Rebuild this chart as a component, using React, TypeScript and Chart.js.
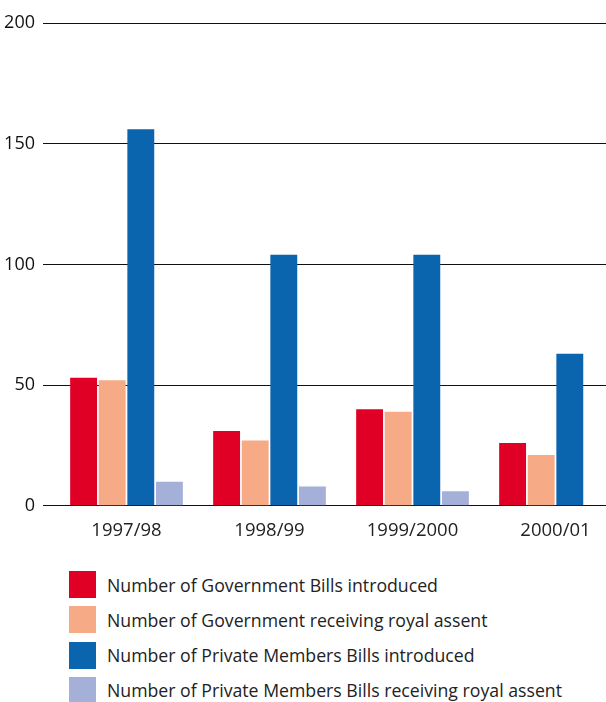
import React, { useEffect, useRef } from "react";
import { Chart, registerables } from "chart.js";

Chart.register(...registerables);

const categories = ["1997/98", "1998/99", "1999/2000", "2000/01"];
const govIntroduced = [53, 31, 40, 26];
const govAssent = [52, 27, 39, 21];
const pmIntroduced = [156, 104, 104, 63];
const pmAssent = [10, 8, 6, 0];
const yTicks = [0, 50, 100, 150, 200];

const seriesNames = [
  "Number of Government Bills introduced",
  "Number of Government receiving royal assent",
  "Number of Private Members Bills introduced",
  "Number of Private Members Bills receiving royal assent",
];
const colors = ["#e00025", "#f6ab86", "#0a64ae", "#a4b0d8"];

const FONT = "'Open Sans', sans-serif";

export default function App() {
  const ref = useRef<HTMLCanvasElement>(null);
  useEffect(() => {
    if (!ref.current) return;
    const values = [govIntroduced, govAssent, pmIntroduced, pmAssent];
    const chart = new Chart(ref.current, {
      type: "bar",
      data: {
        labels: categories,
        datasets: values.map((v, i) => ({
          label: seriesNames[i],
          data: v,
          backgroundColor: colors[i],
          borderWidth: 0,
          categoryPercentage: 0.8,
          barPercentage: 0.94,
        })),
      },
      options: {
        responsive: false,
        animation: false,
        layout: { padding: { top: 23, right: 13, left: 0, bottom: 0 } },
        plugins: { legend: { display: false }, tooltip: { enabled: false } },
        scales: {
          x: {
            grid: { display: false },
            border: { display: false },
            ticks: { color: "#222", font: { family: FONT, size: 18.5 }, padding: 6 },
          },
          y: {
            min: 0,
            max: 200,
            afterBuildTicks: (s: any) => {
              s.ticks = yTicks.map((v) => ({ value: v }));
            },
            afterFit: (s: any) => {
              s.width = 55;
            },
            grid: { color: "#111", lineWidth: 1, tickLength: 12, drawTicks: true },
            border: { display: false },
            ticks: { color: "#111", font: { family: FONT, size: 18 }, padding: 8 },
          },
        },
      },
    });
    return () => chart.destroy();
  }, []);

  return (
    <div
      style={{
        position: "absolute",
        left: 0,
        top: 0,
        width: 606,
        height: 702,
        overflow: "hidden",
        background: "#fff",
        fontFamily: FONT,
      }}
    >
      <canvas ref={ref} width={640} height={548} style={{ position: "absolute", left: 0, top: 0 }} />
      {seriesNames.map((n, i) => (
        <div
          key={n}
          style={{ position: "absolute", left: 69, top: 571 + i * 35.3, height: 27, display: "flex", alignItems: "center" }}
        >
          <div style={{ width: 27, height: 27, background: colors[i] }} />
          <span style={{ marginLeft: 11, fontSize: 17.7, color: "#222", whiteSpace: "nowrap" }}>{n}</span>
        </div>
      ))}
    </div>
  );
}
